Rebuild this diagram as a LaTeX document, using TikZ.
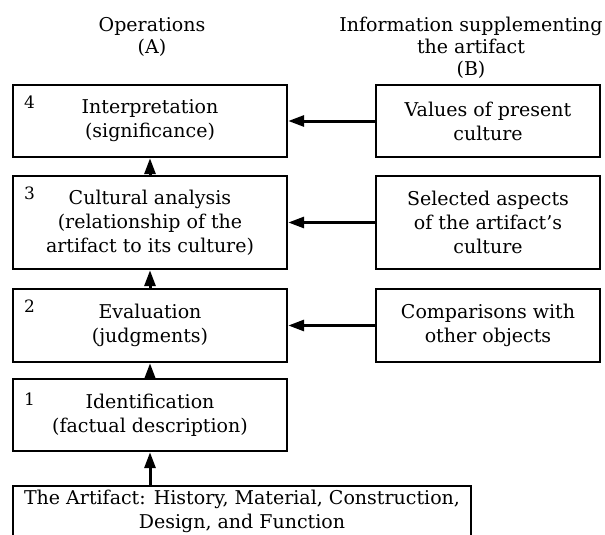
\documentclass[tikz,border=0pt]{standalone}
\usepackage{fontspec}
\setmainfont{DejaVu Serif}
\usetikzlibrary{arrows.meta}
\newcommand\boxfnt{\fontsize{19}{24}\selectfont}
\newcommand\headfnt{\fontsize{19}{22}\selectfont}
\newcommand\numfnt{\fontsize{17}{18}\selectfont}
\tikzset{
  boxline/.style={line width=2.4pt},
  opbox/.style={draw, boxline, minimum width=274pt, align=center, font=\boxfnt, inner sep=0pt},
  infobox/.style={draw, boxline, minimum width=224pt, align=center, font=\boxfnt, inner sep=0pt},
  numlabel/.style={anchor=north west, inner sep=0pt, font=\numfnt},
  arr/.style={line width=3pt, -{Triangle[length=16pt,width=11pt]}},
  headtxt/.style={align=center, font=\headfnt, inner sep=0pt, anchor=north}
}
\begin{document}
\begin{tikzpicture}[x=1pt, y=-1pt]
\useasboundingbox (0,0) rectangle (605,535);

% headers
\node[headtxt] (hA) at (152,17) {Operations\\(A)};
\node[headtxt] (hB) at (471,17) {Information supplementing\\the artifact\\(B)};

% operation boxes (column A)
\node[opbox, minimum height=72pt] (b4) at (150,121) {Interpretation\\(significance)};
\node[opbox, minimum height=93pt] (b3) at (150,222.5) {Cultural analysis\\(relationship of the\\artifact to its culture)};
\node[opbox, minimum height=73pt] (b2) at (150,325.5) {Evaluation\\(judgments)};
\node[opbox, minimum height=72pt] (b1) at (150,415) {Identification\\(factual description)};

% numbers
\node[numlabel] (n4) at ([xshift=12pt,yshift=-12pt]b4.north west) {4};
\node[numlabel] (n3) at ([xshift=12pt,yshift=-12pt]b3.north west) {3};
\node[numlabel] (n2) at ([xshift=12pt,yshift=-12pt]b2.north west) {2};
\node[numlabel] (n1) at ([xshift=12pt,yshift=-15pt]b1.north west) {1};

% information boxes (column B)
\node[infobox, minimum height=72pt] (r4) at (488,121) {Values of present\\culture};
\node[infobox, minimum height=93pt] (r3) at (488,222.5) {Selected aspects\\of the artifact’s\\culture};
\node[infobox, minimum height=73pt] (r2) at (488,325.5) {Comparisons with\\other objects};

% artifact box (runs past the lower edge)
\node[align=center, font=\boxfnt, inner xsep=0pt, inner ysep=4pt, minimum width=458pt, anchor=north] (art) at (242,486)
  {The Artifact: History, Material, Construction,\\Design, and Function};
\draw[boxline] (art.north west) rectangle ([yshift=-90pt]art.north east);

% connectors
\draw[arr] (r4.west) -- (b4.east);
\draw[arr] (r3.west) -- (b3.east);
\draw[arr] (r2.west) -- (b2.east);
\draw[arr] (b3.north) -- (b4.south);
\draw[arr] (b2.north) -- (b3.south);
\draw[arr] (b1.north) -- (b2.south);
\draw[arr] (b1.south |- art.north) -- (b1.south);
\end{tikzpicture}
\end{document}
